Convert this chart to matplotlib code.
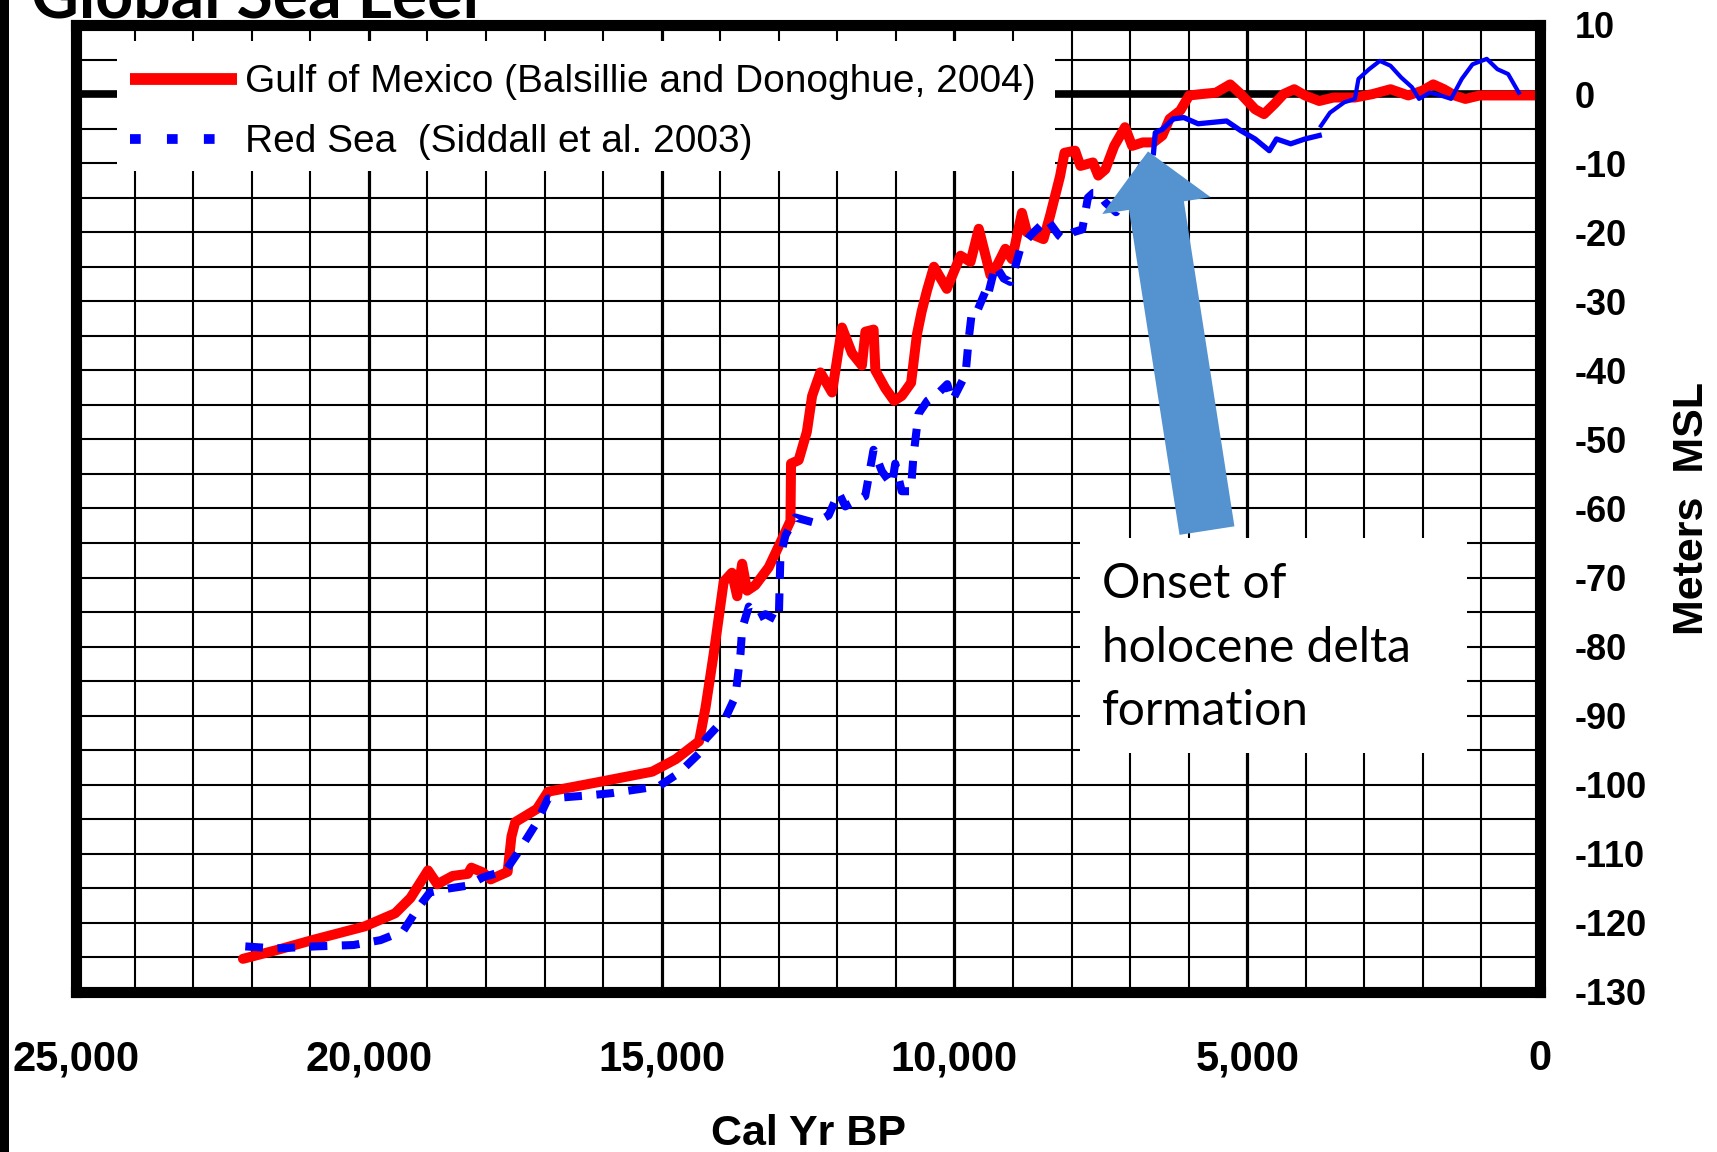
import matplotlib
matplotlib.use('Agg')
import matplotlib.pyplot as plt
from matplotlib.lines import Line2D
from matplotlib.patches import Rectangle
import numpy as np

# Gulf of Mexico sea level record (Balsillie and Donoghue, 2004)
gulf_yr = [22150, 21560, 20970, 20070, 19550, 19290, 18990, 18830, 18570, 18310,
           18250, 18050, 17920, 17630, 17565, 17500, 17130, 16940, 16070, 15160,
           14760, 14360, 14250, 14110, 13940, 13800, 13710, 13625, 13540, 13400,
           13170, 12970, 12800, 12790, 12660, 12520, 12430, 12290, 12090, 11920,
           11750, 11580, 11520, 11380, 11350, 11180, 11030, 10900, 10740, 10640,
           10560, 10470, 10350, 10130, 9895, 9725, 9584, 9385, 9272, 9130,
           9017, 8847, 8762, 8479, 8366, 8196, 8120, 7939, 7848, 7635,
           7544, 7422, 7270, 7087, 6965, 6783, 6600, 6448, 6326, 6144,
           5991, 5778, 5535, 5291, 5109, 4865, 4713, 4531, 4378, 4196,
           4013, 3770, 3526, 3161, 2857, 2553, 2249, 2005, 1822, 1640,
           1457, 1274, 1031, 727, 423, 27]
gulf_msl = [-125.2, -123.9, -122.5, -120.5, -118.6, -116.4, -112.4, -114.4, -113.2, -112.9,
            -112.0, -112.7, -113.7, -112.6, -107.5, -105.4, -103.5, -101.0, -99.6, -98.1,
            -96.3, -93.7, -88.8, -81.0, -70.6, -69.3, -72.7, -68.0, -71.9, -71.1,
            -68.5, -64.9, -61.8, -53.5, -53.0, -48.9, -43.7, -40.3, -43.2, -33.8,
            -37.5, -39.3, -34.4, -34.1, -40.0, -42.6, -44.4, -43.7, -41.8, -34.8,
            -31.5, -28.5, -25.0, -28.2, -23.4, -24.3, -19.5, -26.2, -24.8, -22.4,
            -23.9, -17.2, -20.0, -21.0, -17.6, -11.9, -8.5, -8.2, -10.4, -9.9,
            -11.8, -10.9, -7.5, -4.8, -7.5, -7.0, -7.0, -6.0, -3.6, -2.4,
            -0.2, 0.0, 0.2, 1.4, 0.0, -2.2, -2.9, -1.4, 0.0, 0.7,
            -0.2, -1.0, -0.5, -0.5, 0.0, 0.7, -0.2, 0.5, 1.4, 0.7,
            -0.2, -0.7, -0.2, -0.2, -0.2, -0.2]

# Red Sea sea level record (Siddall et al. 2003)
red_sea_yr = [22110, 21590, 20910, 20260, 19805, 19416, 19156, 18961, 18701, 18312,
              18052, 17662, 17468, 17143, 16940, 16200, 15841, 15045, 14705, 14364,
              14250, 13909, 13739, 13653, 13625, 13511, 13341, 13227, 13000, 12972,
              12886, 12716, 12375, 12148, 11977, 11864, 11523, 11381, 11239, 11068,
              11011, 10900, 10745, 10700, 10614, 10462, 10300, 10122, 10037, 9810,
              9754, 9705, 9640, 9477, 9442, 9300, 9159, 9045, 8989, 8875,
              8705, 8535, 8422, 8213, 8139, 7969, 7817, 7720, 7629, 7544,
              7422, 7239, 7000, 6800, 6600, 6570, 6448, 6265, 6083, 5839,
              5596, 5352, 5109, 4865, 4622, 4500, 4257, 4013, 3770, 3740,
              3587, 3344, 3161, 3100, 2918, 2735, 2553, 2370, 2187, 2066,
              1883, 1700, 1518, 1335, 1153, 909, 727, 544, 361]
red_sea_msl = [-123.4, -123.7, -123.4, -123.2, -122.5, -121.2, -117.8, -115.6, -115.1, -114.6,
               -113.4, -112.4, -110.0, -105.6, -102.0, -101.5, -101.2, -100.2, -98.3, -95.5,
               -93.4, -90.3, -87.2, -81.0, -77.4, -74.2, -75.8, -75.3, -76.3, -67.0,
               -63.9, -61.3, -62.1, -61.0, -57.7, -59.7, -58.2, -51.5, -54.6, -56.6,
               -53.5, -57.5, -57.5, -52.5, -46.3, -44.4, -43.5, -42.0, -44.4, -40.6,
               -35.3, -31.8, -32.0, -28.7, -29.6, -24.8, -26.7, -27.2, -25.8, -22.4,
               -20.5, -19.1, -18.1, -20.5, -21.0, -20.0, -19.6, -15.0, -14.3, -14.3,
               -15.7, -17.1, -13.5, -10.5, -8.5, -5.6, -5.1, -3.6, -3.4, -4.3,
               -4.1, -3.9, -5.3, -6.5, -8.2, -6.5, -7.2, -6.5, -6.0, -4.6,
               -2.7, -1.2, -0.7, 2.2, 3.6, 4.8, 4.1, 2.4, 1.0, -0.7,
               0.2, -0.2, -0.7, 2.2, 4.3, 5.1, 3.6, 2.9, 0.2]

x_ticks = [25000, 20000, 15000, 10000, 5000, 0]
x_tick_labels = ['25,000', '20,000', '15,000', '10,000', '5,000', '0']
y_ticks = list(range(10, -131, -10))
y_tick_labels = [str(v) for v in y_ticks]

legend_labels = ['Gulf of Mexico (Balsillie and Donoghue, 2004)',
                 'Red Sea  (Siddall et al. 2003)']
note_lines = ['Onset of', 'holocene delta', 'formation']

RED = '#ff0000'
BLUE = '#0000ff'
ARROW_BLUE = '#5592d0'
BOLD_FONT = 'Liberation Sans'

fig = plt.figure(figsize=(17.17, 11.52), dpi=100)
fig.patch.set_facecolor('white')
ax = fig.add_axes([0.0443, 0.1389, 0.8526, 0.8394])

ax.set_xlim(25000, 0)
ax.set_ylim(-130, 10)

# grid: every 1000 yr / 5 m, heavier every 5000 yr
ax.set_xticks(x_ticks)
ax.set_xticks(np.arange(0, 25001, 1000), minor=True)
ax.set_yticks(y_ticks)
ax.set_yticks(np.arange(-130, 11, 5), minor=True)
ax.xaxis.grid(True, which='major', color='black', lw=2.3)
ax.xaxis.grid(True, which='minor', color='black', lw=1.5)
ax.yaxis.grid(True, which='both', color='black', lw=1.5)
ax.set_axisbelow(True)
ax.tick_params(which='both', length=0)

ax.axhline(0, color='black', lw=5.5, zorder=1)

ax.set_xticklabels(x_tick_labels, fontfamily=BOLD_FONT, fontweight='bold', fontsize=30)
ax.tick_params(axis='x', pad=34)
ax.yaxis.tick_right()
ax.set_yticklabels(y_tick_labels, fontfamily=BOLD_FONT, fontweight='bold', fontsize=26)
ax.tick_params(axis='y', pad=25)

ax.set_xlabel('Cal Yr BP', fontfamily=BOLD_FONT, fontweight='bold', fontsize=31)
ax.xaxis.set_label_coords(0.5, -0.126)
ax.yaxis.set_label_position('right')
ax.set_ylabel('Meters  MSL', fontfamily=BOLD_FONT, fontweight='bold', fontsize=31)
ax.yaxis.set_label_coords(1.104, 0.5)
ax.yaxis.label.set_verticalalignment('center')

for spine in ax.spines.values():
    spine.set_linewidth(8)
    spine.set_color('black')
    spine.set_zorder(8)

# sea level curves
ax.plot(gulf_yr, gulf_msl, color=RED, lw=7.2, solid_joinstyle='round',
        solid_capstyle='round', zorder=3)

yr = np.array(red_sea_yr)
msl = np.array(red_sea_msl)
old = yr >= 6600
mid = (yr <= 6600) & (yr >= 3770)
late = yr <= 3740
ax.plot(yr[old], msl[old], color=BLUE, lw=5.8, ls=(0, (2.2, 1.8)),
        dash_capstyle='butt', zorder=4)
ax.plot(yr[mid], msl[mid], color=BLUE, lw=3.8, zorder=4)
ax.plot(yr[late], msl[late], color=BLUE, lw=3.0, zorder=4)

# legend sits on a white panel that hides the grid
ax.add_patch(Rectangle((8282, -11.2), 24300 - 8282, 18.9, fc='white', ec='none', zorder=2))
h_gulf = Line2D([], [], color=RED, lw=8.5, solid_capstyle='butt')
h_red = Line2D([], [], color=BLUE, lw=7, ls=(0, (1.1, 2.7)), dash_capstyle='butt')
leg = ax.legend([h_gulf, h_red], legend_labels, loc='upper left',
                bbox_to_anchor=(0.0369, 0.9594), frameon=False,
                prop={'family': 'Liberation Sans', 'size': 28},
                handlelength=2.75, handletextpad=0.2, labelspacing=0.62,
                borderpad=0, borderaxespad=0)
leg.set_zorder(7)

# callout for the onset of delta formation
ax.add_patch(Rectangle((1247, -95.4), 7855 - 1247, 31.2, fc='white', ec='none', zorder=5))
for line, y in zip(note_lines, [-72.9, -82.2, -91.4]):
    ax.text(7480, y, line, fontfamily='Lato', fontsize=34.5, va='baseline',
            ha='left', color='black', zorder=6)
ax.annotate('', xy=(6694, -8.3), xytext=(5687, -63.2),
            arrowprops=dict(arrowstyle='simple,head_length=3.95,head_width=7.9,tail_width=4.0',
                            mutation_scale=10, fc=ARROW_BLUE, ec='none',
                            shrinkA=0, shrinkB=0), zorder=6)

fig.text(0.018, 1 - 18 / 1152, 'Global Sea Leel', fontfamily='Lato', fontweight='bold',
         fontsize=47.5, va='baseline', ha='left')
fig.add_artist(Rectangle((0, 0), 9 / 1717, 1, transform=fig.transFigure,
                         fc='black', ec='none'))

fig.savefig('out.png', dpi=100)
